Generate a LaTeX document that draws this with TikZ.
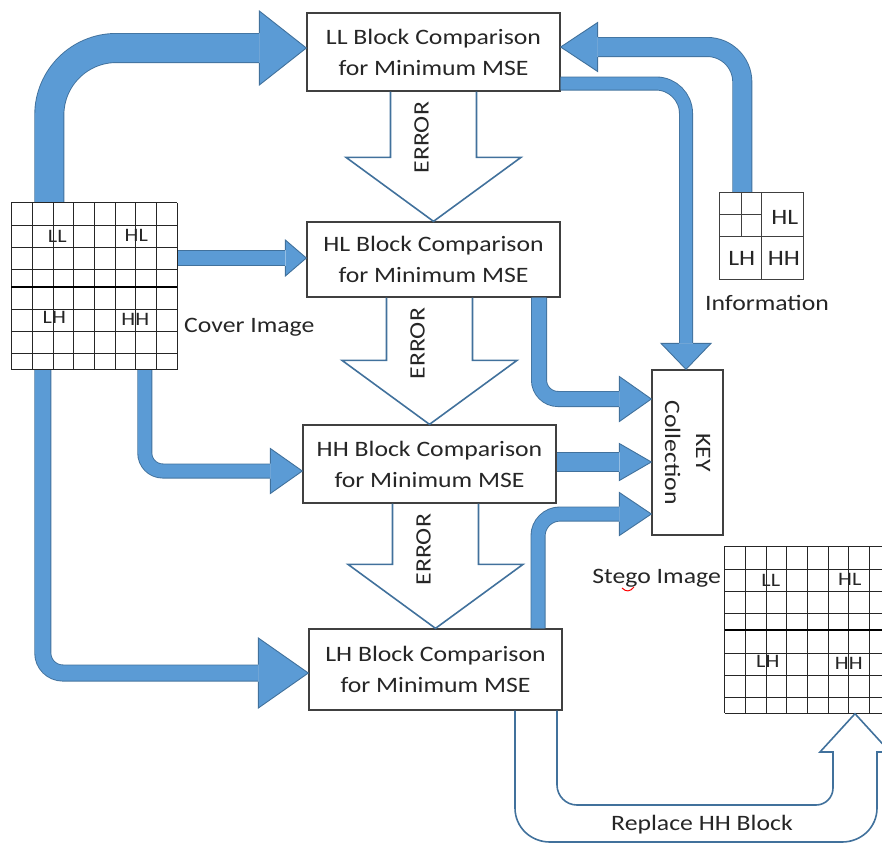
\documentclass[tikz,border=0pt]{standalone}
\usepackage{fontspec}
\setmainfont{Carlito}[FakeStretch=1.17]
\usetikzlibrary{calc}
\definecolor{AFill}{HTML}{5B9BD5}
\definecolor{ALine}{HTML}{41719C}
\definecolor{Txt}{HTML}{262626}
\definecolor{BoxLine}{HTML}{404040}
\tikzset{
  box/.style={draw=BoxLine, line width=1.3pt, fill=white, minimum width=253pt, inner sep=0pt,
    align=center, text=Txt, font=\fontsize{22}{31}\selectfont},
  shaft/.style={draw=ALine, line width=0.9pt, double=AFill, double distance=#1},
  head/.style={fill=AFill, draw=ALine, line width=0.9pt, line join=miter},
  hollow/.style={draw=ALine, line width=1.6pt, line join=miter},
  lbl/.style={text=Txt, font=\fontsize{22}{31}\selectfont, inner sep=0pt},
  glbl/.style={text=Txt, font=\fontsize{19}{23}\selectfont, inner sep=0pt},
  gridline/.style={draw=black!85, line width=1.2pt},
  imgarea/.style={minimum width=166pt, minimum height=167pt, inner sep=0pt},
}
% right, left, down arrow heads: tip, length, width, shaft width
\newcommand\bahR[4]{\filldraw[head] ($(#1)+(-#2,#4/2)$) -- ($(#1)+(-#2,#3/2)$) -- (#1) -- ($(#1)+(-#2,-#3/2)$) -- ($(#1)+(-#2,-#4/2)$);}
\newcommand\bahL[4]{\filldraw[head] ($(#1)+(#2,#4/2)$) -- ($(#1)+(#2,#3/2)$) -- (#1) -- ($(#1)+(#2,-#3/2)$) -- ($(#1)+(#2,-#4/2)$);}
\newcommand\bahD[4]{\filldraw[head] ($(#1)+(#4/2,-#2)$) -- ($(#1)+(#3/2,-#2)$) -- (#1) -- ($(#1)+(-#3/2,-#2)$) -- ($(#1)+(-#4/2,-#2)$);}
% hollow ERROR arrow from box #1 to box #2
\newcommand\errarr[2]{%
  \draw[hollow] let \p1=(#1.south), \p2=(#2.north) in
    (\x2-43pt,\y1) -- (\x2-43pt,\y2+64pt) -- (\x2-87.5pt,\y2+64pt) -- (\p2)
    -- (\x2+87.5pt,\y2+64pt) -- (\x2+43pt,\y2+64pt) -- (\x2+43pt,\y1)
    (\x2-12pt,\y1-46pt) node[rotate=90, lbl] {ERROR};}
% 8x8 image grid inside node #1
\newcommand\pixgrid[1]{%
  \begin{scope}[shift={(#1.north west)}]
    \foreach \xx in {0,21,42,62,83,104,124,145,166} \draw[gridline] (\xx,0) -- (\xx,167);
    \foreach \yy in {0,23,45,67,84,107,129,151,167} \draw[gridline] (0,\yy) -- (166,\yy);
    \draw[line width=2.2pt] (0,84) -- (166,84);
    \node[glbl] at (46,34) {LL};
    \node[glbl] at (125,33) {HL};
    \node[glbl] at (43,115) {LH};
    \node[glbl] at (124,117) {HH};
  \end{scope}}
\begin{document}
\begin{tikzpicture}[x=1pt, y=-1pt]
\useasboundingbox (0,0) rectangle (882,844);
\clip (0,0) rectangle (882,844);

% image areas
\node[imgarea] (cover) at (94.5,286.5) {};
\node[imgarea] (stego) at (808,630) {};
\node[minimum width=84pt, minimum height=87pt, inner sep=0pt] (info) at (762,236.5) {};

% boxes
\node[box, minimum height=78pt] (LL) at (433.5,52) {LL Block Comparison\\for Minimum MSE};
\node[box, minimum height=75pt] (HL) at (433.5,259.5) {HL Block Comparison\\for Minimum MSE};
\node[box, minimum height=78pt] (HH) at (429.5,464) {HH Block Comparison\\for Minimum MSE};
\node[box, minimum height=81pt] (LH) at (435.5,669.5) {LH Block Comparison\\for Minimum MSE};
\node[box, minimum width=71pt, minimum height=165pt] (KEY) at (687.5,452.5) {};
\node[rotate=-90, align=center, lbl] (keytext) at (KEY.center) {KEY\\Collection};

% ERROR arrows
\errarr{LL}{HL}
\errarr{HL}{HH}
\errarr{HH}{LH}

% tips and starts
\coordinate (t1) at ($(LL.west)+(0,-4)$);
\coordinate (s1) at ($(cover.north west)+(38,0)$);
\coordinate (t2) at ($(LL.east)+(0,-5)$);
\coordinate (s2) at ($(info.north west)+(22.5,0)$);
\coordinate (s3) at ($(LL.east)+(0,31.5)$);
\coordinate (t3) at ($(KEY.north)+(-1.5,0)$);
\coordinate (s4) at ($(HL.south)+(105.5,0)$);
\coordinate (t4) at ($(KEY.west)+(0,-53.5)$);
\coordinate (t5) at ($(KEY.west)+(0,9.5)$);
\coordinate (s5) at (HH.east |- t5);
\coordinate (t6) at ($(KEY.west)+(0,61.5)$);
\coordinate (s6) at ($(LH.north)+(102.5,0)$);
\coordinate (t7) at ($(HL.west)+(0,-1.5)$);
\coordinate (s7) at (cover.east |- t7);
\coordinate (t8) at ($(HH.west)+(0,7)$);
\coordinate (s8) at ($(cover.south west)+(133.5,0)$);
\coordinate (t9) at ($(LH.west)+(0,3.5)$);
\coordinate (s9) at ($(cover.south west)+(31.5,0)$);

% solid block arrows
\draw[shaft=28.2pt, rounded corners=67pt] (s1) |- ($(t1)+(-47,0)$);
\bahR{t1}{47}{74}{30}
\draw[shaft=18.2pt, rounded corners=35pt] (s2) |- ($(t2)+(37,0)$);
\bahL{t2}{37}{49}{20}
\draw[shaft=12.2pt, rounded corners=30pt] (s3) -| ($(t3)+(0,-26)$);
\bahD{t3}{26}{50}{14}
\draw[shaft=14.2pt, rounded corners=19pt] (s4) |- ($(t4)+(-32,0)$);
\bahR{t4}{32}{45}{16}
\draw[shaft=18.2pt] (s5) -- ($(t5)+(-32,0)$);
\bahR{t5}{32}{37}{20}
\draw[shaft=13.2pt, rounded corners=22pt] (s6) |- ($(t6)+(-32,0)$);
\bahR{t6}{32}{43}{15}
\draw[shaft=14.2pt] (s7) -- ($(t7)+(-21,0)$);
\bahR{t7}{21}{36}{16}
\draw[shaft=13.2pt, rounded corners=18pt] (s8) |- ($(t8)+(-32,0)$);
\bahR{t8}{32}{45}{15}
\draw[shaft=15.2pt, rounded corners=20pt] (s9) |- ($(t9)+(-50,0)$);
\bahR{t9}{50}{70}{17}

% grids
\pixgrid{cover}
\pixgrid{stego}
\begin{scope}[shift={(info.north west)}]
  \draw[line width=1.3pt, draw=BoxLine] (0,0) rectangle (84,87);
  \draw[line width=1.3pt, draw=BoxLine] (42,0) -- (42,87) (0,44) -- (84,44) (22,0) -- (22,44) (0,22) -- (42,22);
  \node[lbl] at (65,25) {HL};
  \node[lbl] at (22,66) {LH};
  \node[lbl] at (64,66) {HH};
\end{scope}

% texts
\node[lbl, anchor=west] (covertext) at (184,327) {Cover Image};
\node[lbl] (infotext) at (767,303) {Information};
\node[lbl, anchor=east] (stegotext) at (721,578) {Stego Image};
\draw[red, line width=1pt] (622,588) .. controls (626,592) and (630,592) .. (634,587);

% Replace HH block U-arrow
\draw[hollow] (LH.south -| 557,0) -- (557,785) .. controls (557,796) and (566,805) .. (577,805)
  -- (816,805) .. controls (825.4,805) and (833,797.4) .. (833,788)
  -- (833,752) -- (820,752) -- (stego.south -| 855,0) -- (890,752) -- (877,752)
  -- (877,808) .. controls (877,827.3) and (861.3,842) .. (842,842)
  -- (550,842) .. controls (530.7,842) and (515,827.3) .. (515,808)
  -- (LH.south -| 515,0);
\node[lbl] (replacetext) at (702,825) {Replace HH Block};
\end{tikzpicture}
\end{document}
